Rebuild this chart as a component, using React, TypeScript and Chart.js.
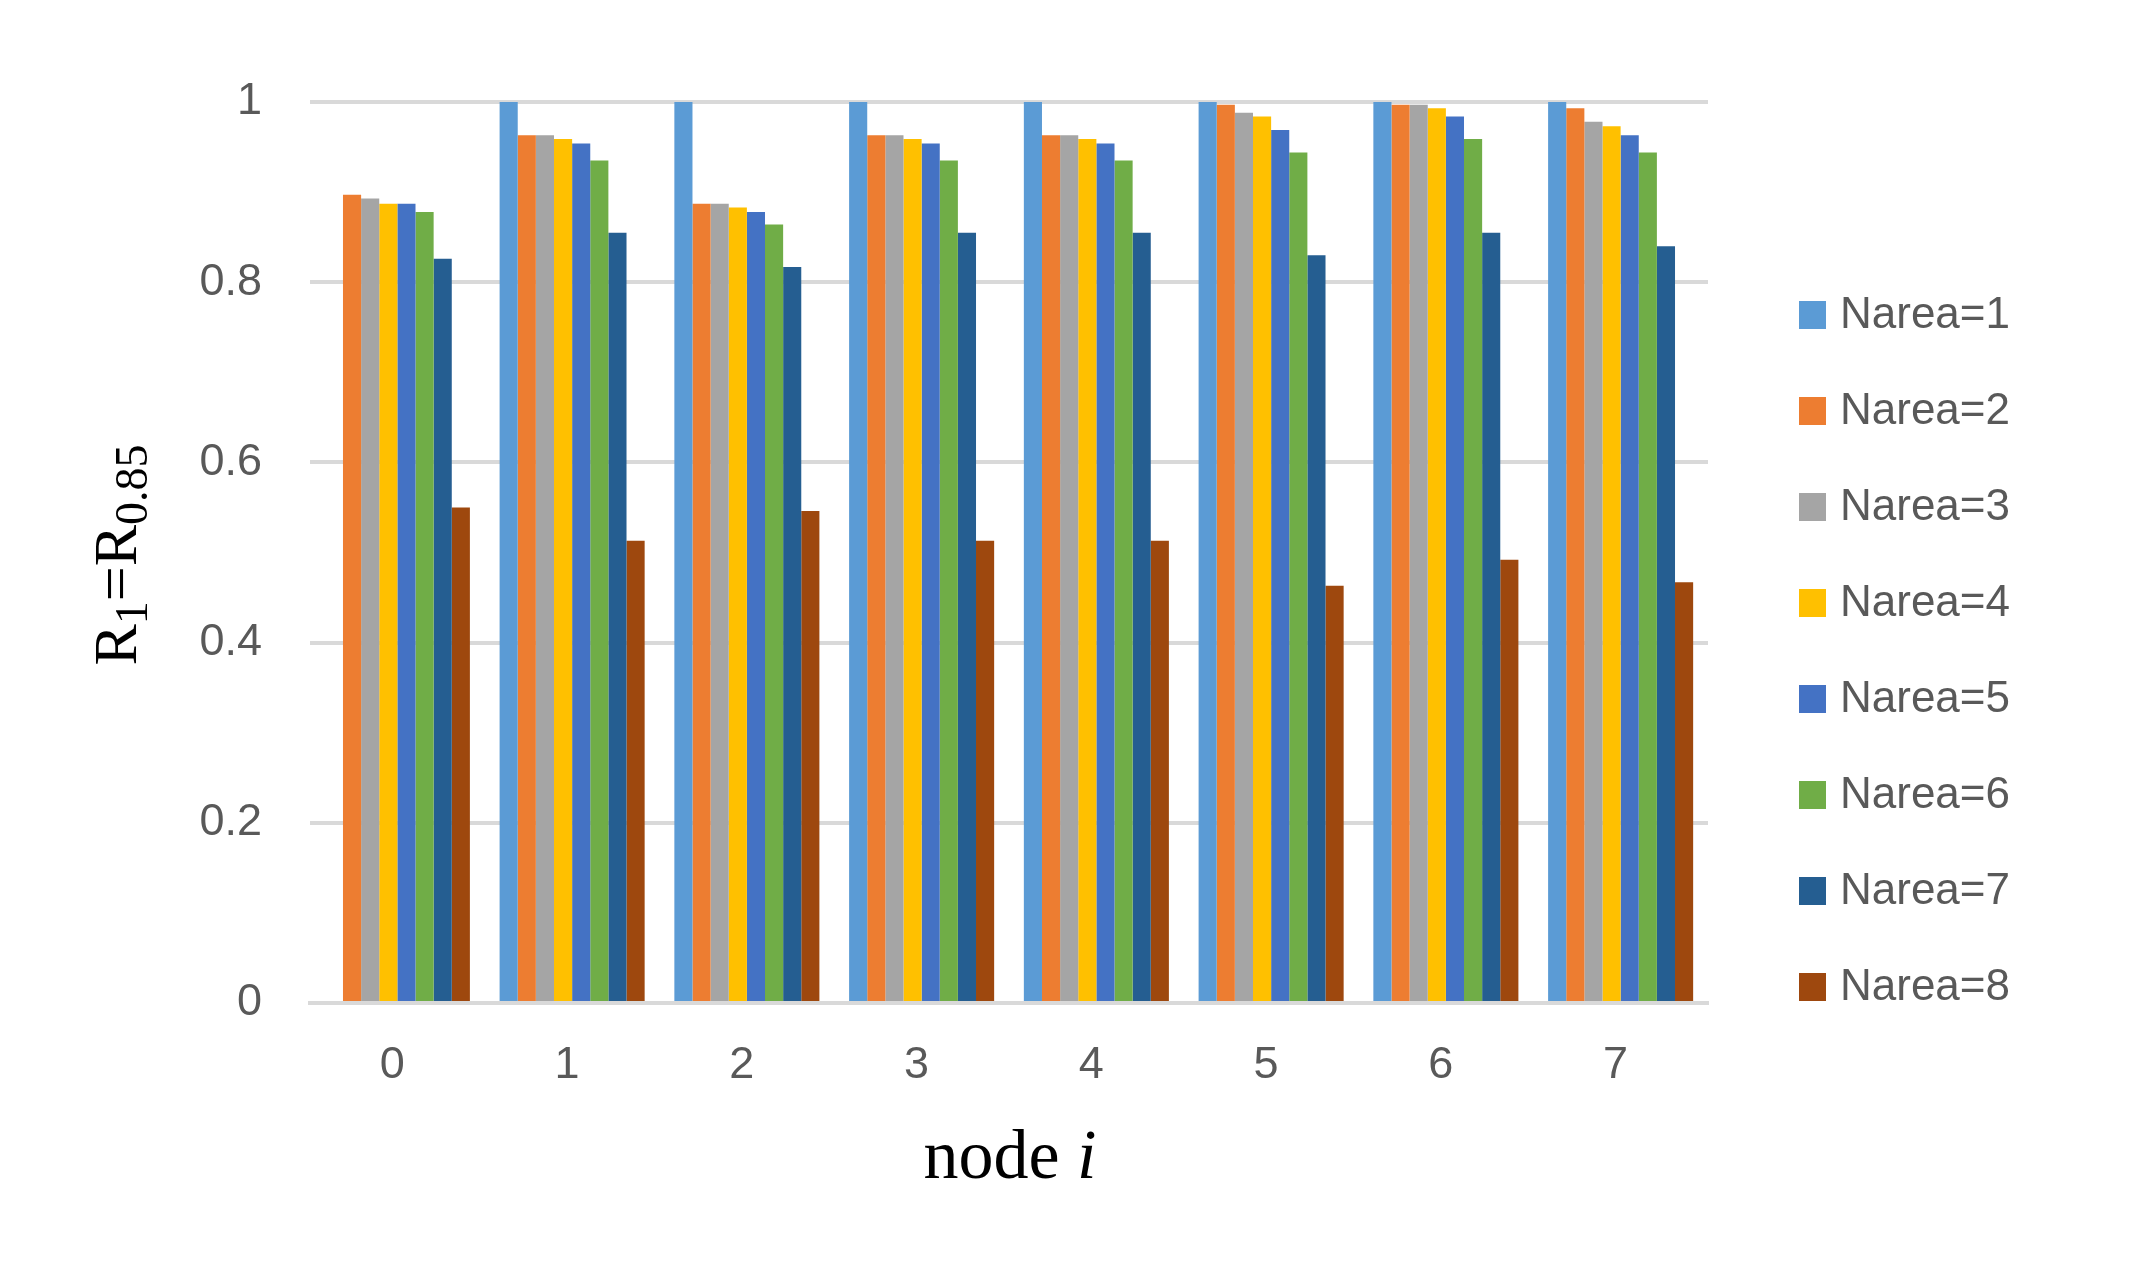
import React, { useEffect, useRef } from "react";
import { Chart, registerables } from "chart.js";

Chart.register(...registerables);

const categories = ["0", "1", "2", "3", "4", "5", "6", "7"];
const seriesLabels = ["Narea=1", "Narea=2", "Narea=3", "Narea=4", "Narea=5", "Narea=6", "Narea=7", "Narea=8"];
const seriesColors = ["#5b9bd5", "#ed7d31", "#a5a5a5", "#ffc000", "#4472c4", "#70ad47", "#255e91", "#9e480e"];

const narea1 = [0, 1, 1, 1, 1, 1, 1, 1];
const narea2 = [0.897, 0.963, 0.887, 0.963, 0.963, 0.997, 0.997, 0.993];
const narea3 = [0.893, 0.963, 0.887, 0.963, 0.963, 0.988, 0.997, 0.978];
const narea4 = [0.887, 0.959, 0.883, 0.959, 0.959, 0.984, 0.993, 0.973];
const narea5 = [0.887, 0.954, 0.878, 0.954, 0.954, 0.969, 0.984, 0.963];
const narea6 = [0.878, 0.935, 0.864, 0.935, 0.935, 0.944, 0.959, 0.944];
const narea7 = [0.826, 0.855, 0.817, 0.855, 0.855, 0.830, 0.855, 0.840];
const narea8 = [0.550, 0.513, 0.546, 0.513, 0.513, 0.463, 0.492, 0.467];

const seriesValues = [narea1, narea2, narea3, narea4, narea5, narea6, narea7, narea8];

const yTickLabels = ["0", "0.2", "0.4", "0.6", "0.8", "1"];

const W = 2151;
const H = 1278;

const decorPlugin = {
  id: "decor",
  afterDraw(chart: any) {
    const ctx = chart.ctx;
    ctx.save();
    // Legend
    const boxX = 1799;
    const textX = 1840;
    const firstY = 315;
    const step = 96;
    ctx.font = "44px 'Liberation Sans', Arial, sans-serif";
    ctx.textBaseline = "middle";
    ctx.textAlign = "left";
    chart.data.datasets.forEach((ds: any, i: number) => {
      const cy = firstY + i * step;
      ctx.fillStyle = ds.backgroundColor;
      ctx.fillRect(boxX, cy - 14, 27, 28);
      ctx.fillStyle = "#595959";
      ctx.fillText(ds.label, textX, cy + 1);
    });

    // X axis title: "node i"
    ctx.fillStyle = "#000";
    ctx.textBaseline = "alphabetic";
    const f1 = "70px 'Liberation Serif', 'Times New Roman', serif";
    const f2 = "italic 70px 'Liberation Serif', 'Times New Roman', serif";
    ctx.font = f1;
    const w1 = ctx.measureText("node ").width;
    ctx.font = f2;
    const w2 = ctx.measureText("i").width;
    const startX = 1010 - (w1 + w2) / 2;
    ctx.font = f1;
    ctx.fillText("node ", startX, 1178);
    ctx.font = f2;
    ctx.fillText("i", startX + w1, 1178);

    // Y axis title: R1=R0.85 rotated
    const big = "62px 'Liberation Serif', 'Times New Roman', serif";
    const small = "46px 'Liberation Serif', 'Times New Roman', serif";
    const parts = [
      { t: "R", f: big, dy: 0 },
      { t: "1", f: small, dy: 11 },
      { t: "=", f: big, dy: 0 },
      { t: "R", f: big, dy: 0 },
      { t: "0.85", f: small, dy: 11 },
    ];
    let total = 0;
    const widths = parts.map((p) => {
      ctx.font = p.f;
      const w = ctx.measureText(p.t).width;
      total += w;
      return w;
    });
    ctx.translate(136, 555);
    ctx.rotate(-Math.PI / 2);
    let x = -total / 2;
    parts.forEach((p, i) => {
      ctx.font = p.f;
      ctx.fillText(p.t, x, p.dy);
      x += widths[i];
    });
    ctx.restore();
  },
};

export default function App() {
  const ref = useRef<HTMLCanvasElement | null>(null);
  useEffect(() => {
    if (!ref.current) return;
    const chart = new Chart(ref.current, {
      type: "bar",
      data: {
        labels: categories,
        datasets: seriesValues.map((vals, i) => ({
          label: seriesLabels[i],
          data: vals,
          backgroundColor: seriesColors[i],
          borderWidth: 0,
          categoryPercentage: 0.83,
          barPercentage: 1.0,
        })),
      },
      options: {
        animation: false,
        responsive: false,
        devicePixelRatio: 1,
        layout: { padding: { left: 0, top: 102, right: W - 1708, bottom: 0 } },
        plugins: {
          legend: { display: false },
          tooltip: { enabled: false },
          title: { display: false },
        },
        scales: {
          x: {
            grid: { display: false, drawTicks: false },
            border: { display: true, color: "#d9d9d9", width: 4 },
            ticks: {
              color: "#595959",
              font: { family: "'Liberation Sans', Arial, sans-serif", size: 45 },
              padding: 36,
              labelOffset: -5,
            },
            afterFit: (s: any) => {
              s.height = 275;
            },
          },
          y: {
            min: 0,
            max: 1,
            grid: { color: "#d9d9d9", lineWidth: 4, drawTicks: false },
            border: { display: false },
            ticks: {
              stepSize: 0.2,
              color: "#595959",
              font: { family: "'Liberation Sans', Arial, sans-serif", size: 45 },
              padding: 48,
              callback: (_v: any, idx: number) => yTickLabels[idx],
            },
            afterFit: (s: any) => {
              s.width = 310;
            },
          },
        },
      },
      plugins: [decorPlugin],
    });
    return () => chart.destroy();
  }, []);
  return (
    <div style={{ position: "absolute", left: 0, top: 0, width: W, height: H, background: "#fff" }}>
      <canvas ref={ref} width={W} height={H} style={{ width: W, height: H, display: "block" }} />
    </div>
  );
}
